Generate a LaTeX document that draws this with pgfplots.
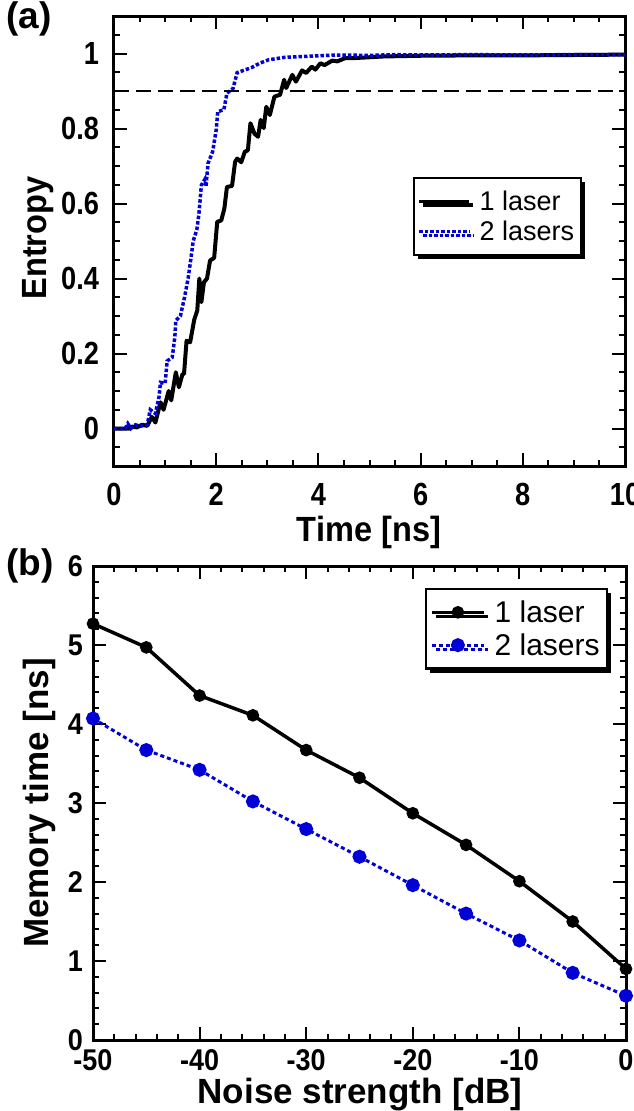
\documentclass[border=0pt]{standalone}
\usepackage{fontspec}
\setmainfont{Liberation Sans}
\newfontfamily\narrowfont[FakeStretch=0.85]{Liberation Sans}
\newfontfamily\semifont[FakeStretch=0.93]{Liberation Sans}
\newfontfamily\tickfontb[FakeStretch=0.9]{Liberation Sans}
\usepackage{pgfplots}
\pgfplotsset{compat=1.18}
\usetikzlibrary{shadows}
\definecolor{lblue}{RGB}{0,0,215}

\pgfplotsset{
  panel/.style={
    scale only axis, anchor=south west,
    axis line style={line width=3pt},
    tick style={line width=2pt, black},
    major tick length=13pt, minor tick length=6pt,
    tick align=inside,
    every tick label/.append style={inner sep=0pt, outer sep=0pt},
    legend cell align=left,
    legend style={draw=black, fill=white, line width=2.2pt,
      drop shadow={shadow xshift=4pt, shadow yshift=-4pt, fill=black, opacity=1},
      anchor=north west, inner xsep=4pt, row sep=0pt, column sep=6pt},
  },
}

\begin{document}
\begin{tikzpicture}[x=1pt,y=1pt]

% ---------- (a) ----------
\begin{axis}[panel,
  at={(114pt,-466pt)}, width=511pt, height=450pt,
  xmin=0, xmax=10, ymin=-0.1, ymax=1.1,
  xtick={0,2,4,6,8,10}, xticklabels={0,2,4,6,8,10},
  minor xtick={0,0.5,...,10},
  ytick={0,0.2,0.4,0.6,0.8,1}, yticklabels={0,0.2,0.4,0.6,0.8,1},
  minor ytick={-0.1,-0.05,...,1.1},
  ticklabel style={font=\narrowfont\bfseries\fontsize{32}{36}\selectfont},
  xticklabel shift=17pt, yticklabel shift=15pt,
  legend style={at={(0.585,0.642)}, font=\fontsize{27}{29}\selectfont,
    inner ysep=8pt, nodes={inner ysep=4.6pt, inner xsep=3pt}},
  legend image code/.code={\draw[#1, line width=2.6pt] (0pt,0pt) -- (50pt,0pt);},
]
\addplot[black, line width=4pt, line join=round] coordinates {
(0,0) (0.3,0) (0.35,0.005) (0.45,0.003) (0.55,0.01) (0.65,0.007) (0.74,0.031)
(0.81,0.016) (0.91,0.07) (0.97,0.05) (1.07,0.10) (1.12,0.075) (1.21,0.15)
(1.27,0.11) (1.34,0.145) (1.37,0.145) (1.42,0.234) (1.49,0.23) (1.57,0.29)
(1.63,0.315) (1.67,0.40) (1.71,0.337) (1.76,0.39) (1.82,0.40) (1.88,0.448)
(1.96,0.455) (2.02,0.551) (2.10,0.555) (2.16,0.587) (2.21,0.644) (2.31,0.647)
(2.37,0.711) (2.41,0.72) (2.49,0.71) (2.56,0.738) (2.62,0.742) (2.67,0.814)
(2.75,0.786) (2.82,0.778) (2.87,0.823) (2.93,0.801) (2.98,0.858) (3.05,0.836)
(3.14,0.885) (3.25,0.89) (3.33,0.93) (3.37,0.908) (3.49,0.943) (3.56,0.925)
(3.68,0.955) (3.76,0.948) (3.87,0.965) (3.94,0.957) (4.04,0.974) (4.12,0.969)
(4.27,0.981) (4.37,0.979) (4.53,0.988) (4.73,0.988) (5.0,0.99) (5.26,0.992)
(5.6,0.993) (6,0.994) (7,0.995) (8,0.995) (9,0.996) (10,0.997)
};
\addlegendentry{1 laser}
\addplot[lblue, line width=3.5pt, dash pattern=on 3.5pt off 2pt] coordinates {
(0,0) (0.22,0) (0.27,0.013) (0.33,0) (0.42,0.01) (0.51,0.006) (0.65,0.01)
(0.71,0.05) (0.81,0.04) (0.88,0.083) (0.91,0.123) (1.0,0.12) (1.04,0.18)
(1.14,0.19) (1.19,0.243) (1.21,0.288) (1.30,0.30) (1.38,0.35) (1.45,0.40)
(1.50,0.448) (1.55,0.50) (1.62,0.53) (1.66,0.57) (1.71,0.649) (1.78,0.665)
(1.80,0.645) (1.84,0.707) (1.93,0.738) (2.0,0.796) (2.03,0.845) (2.15,0.85)
(2.21,0.894) (2.33,0.907) (2.41,0.949) (2.56,0.956) (2.70,0.963) (2.85,0.974)
(3.02,0.983) (3.35,0.99) (3.68,0.992) (4.0,0.994) (4.33,0.996) (5,0.995)
(5.5,0.997) (6,0.996) (7,0.997) (8,0.996) (9,0.997) (10,0.997)
};
\addlegendentry{2 lasers}
\addplot[black, line width=2pt, dash pattern=on 15pt off 7pt, forget plot] coordinates {(0,0.9) (10,0.9)};
\end{axis}

% ---------- (b) ----------
\begin{axis}[panel,
  at={(93pt,-1040pt)}, width=533pt, height=474pt,
  xmin=-50, xmax=0, ymin=0, ymax=6,
  xtick={-50,-40,-30,-20,-10,0}, xticklabels={-50,-40,-30,-20,-10,0},
  minor xtick={-50,-48,...,0},
  ytick={0,1,2,3,4,5,6}, yticklabels={0,1,2,3,4,5,6},
  minor ytick={0,0.2,...,6},
  ticklabel style={font=\tickfontb\bfseries\fontsize{30}{34}\selectfont},
  xticklabel shift=10pt, yticklabel shift=10pt,
  legend style={at={(0.623,0.954)}, font=\fontsize{30}{32}\selectfont,
    inner ysep=7pt, nodes={inner ysep=4.8pt, inner xsep=3pt}},
  legend image code/.code={\draw[mark repeat=2, mark phase=2, #1] plot coordinates {(0pt,0pt) (26pt,0pt) (52pt,0pt)};},
]
\addplot[black, line width=3.5pt, mark=*, mark size=4.5pt, mark options={solid}] coordinates {
(-50,5.27) (-45,4.97) (-40,4.36) (-35,4.11) (-30,3.67) (-25,3.32) (-20,2.87)
(-15,2.47) (-10,2.01) (-5,1.50) (0,0.90)
};
\addlegendentry{1 laser}
\addplot[lblue, line width=3pt, dash pattern=on 4pt off 3pt, mark=*, mark size=5.5pt, mark options={solid}] coordinates {
(-50,4.07) (-45,3.67) (-40,3.42) (-35,3.02) (-30,2.67) (-25,2.32) (-20,1.96)
(-15,1.60) (-10,1.26) (-5,0.85) (0,0.56)
};
\addlegendentry{2 lasers}
\end{axis}

% labels
\node[anchor=north west, inner sep=0pt, font=\bfseries\fontsize{37}{40}\selectfont] at (6,-1) {(a)};
\node[anchor=north west, inner sep=0pt, font=\bfseries\fontsize{37}{40}\selectfont] at (6,-548) {(b)};
\node[anchor=base, inner sep=0pt, font=\semifont\bfseries\fontsize{35}{38}\selectfont] at (369,-541) {Time [ns]};
\node[anchor=base, rotate=90, inner sep=0pt, font=\semifont\bfseries\fontsize{35}{38}\selectfont] at (46,-238) {Entropy};
\node[anchor=base, inner sep=0pt, font=\bfseries\fontsize{35}{38}\selectfont] at (360,-1103) {Noise strength [dB]};
\node[anchor=base, rotate=90, inner sep=0pt, font=\bfseries\fontsize{35}{38}\selectfont] at (48,-803) {Memory time [ns]};

\pgfresetboundingbox
\useasboundingbox (0,0) rectangle (634,-1111);
\end{tikzpicture}
\end{document}
